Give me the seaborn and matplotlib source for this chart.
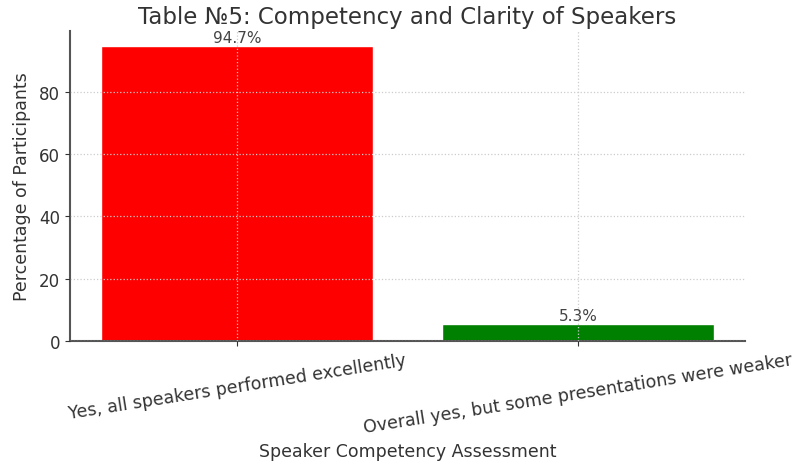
import seaborn as sns
import matplotlib.pyplot as plt
import pandas as pd

# Survey result
answers = ["Yes, all speakers performed excellently",
           "Overall yes, but some presentations were weaker"]
percentages = [94.7, 5.3]
bar_colors = ["red", "green"]

def main():
    sns.set_style("ticks")
    plt.rcParams['font.family'] = ['DejaVu Sans']

    data = pd.DataFrame({'Answer': answers, 'Percent': percentages})

    fig = plt.figure(figsize=(7.95, 4.64), dpi=100)
    ax = fig.add_axes([0.088, 0.263, 0.849, 0.668])
    sns.barplot(data=data, x='Answer', y='Percent', hue='Answer',
                palette=bar_colors, width=0.8, saturation=1, legend=False, ax=ax)
    ax.margins(x=0.05)

    # labels above bars
    for i, val in enumerate(percentages):
        ax.text(i, val + 0.4, f'{val}%', ha='center', va='bottom',
                fontsize=11, color='#444444')

    ax.set_title('Table №5: Competency and Clarity of Speakers', fontsize=16.5,
                 color='#333333', pad=6)
    ax.set_xlabel('Speaker Competency Assessment', fontsize=12.5, color='#333333')
    ax.xaxis.set_label_coords(0.5, -0.355)
    ax.xaxis.label.set_va('center')
    ax.set_ylabel('Percentage of Participants', fontsize=12.5, color='#333333',
                  labelpad=6)
    ax.set_yticks([0, 20, 40, 60, 80])
    ax.tick_params(axis='x', labelrotation=9, labelsize=12.5, colors='#333333')
    ax.tick_params(axis='y', labelsize=12, colors='#333333')
    for lbl in ax.get_xticklabels():
        lbl.set_ha('center')

    ax.grid(True, linestyle=':', color='#cccccc', linewidth=0.9)
    ax.set_axisbelow(False)
    sns.despine(ax=ax)
    for s in ['left', 'bottom']:
        ax.spines[s].set_color('#555555')
        ax.spines[s].set_linewidth(1.5)

    plt.savefig("out.png")

if __name__ == '__main__':
    main()
